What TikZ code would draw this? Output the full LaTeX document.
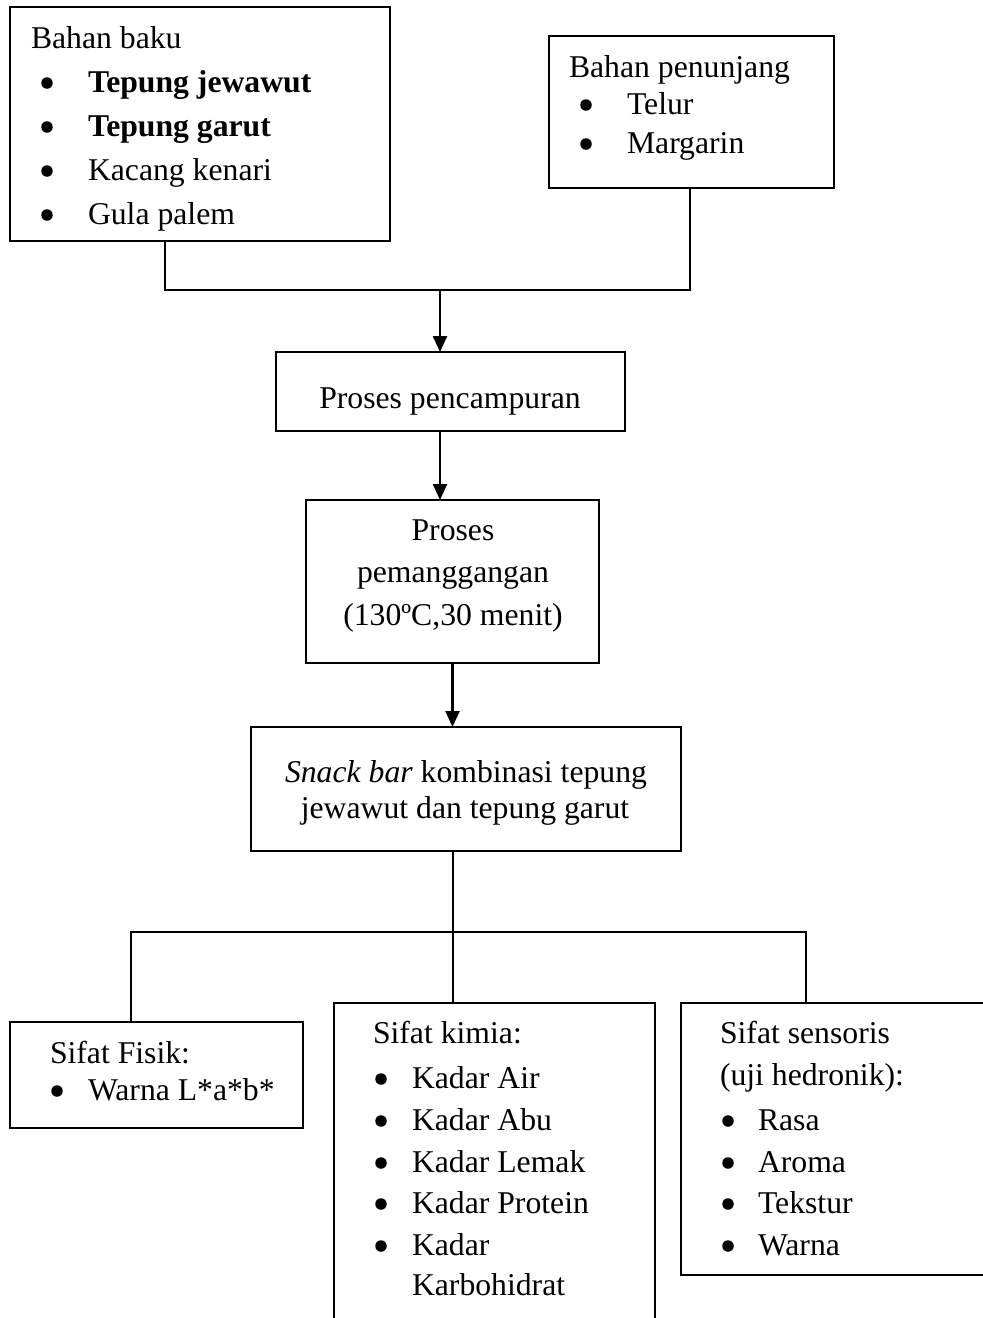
\documentclass[tikz,border=0pt]{standalone}
\usepackage{fontspec}
\setmainfont{Liberation Serif}
\usetikzlibrary{arrows.meta}
\begin{document}
\begin{tikzpicture}[x=1pt,y=-1pt,
  box/.style={draw, line width=1.2pt, inner sep=0pt, outer sep=0pt, anchor=north west},
  txt/.style={inner sep=0pt, outer sep=0pt, font=\fontsize{31.7}{38}\selectfont},
  bul/.style={circle, fill, inner sep=0pt, minimum size=11.5pt},
  conn/.style={line width=2.4pt, line join=miter},
  arr/.style={line width=2.4pt, -{Triangle[length=16pt,width=14pt]}}]
\clip (0,0) rectangle (983,1318);
% boxes
\node[box, minimum width=380pt, minimum height=234pt] (b1) at (10,7) {};
\node[box, minimum width=285pt, minimum height=152pt] (b2) at (549,36) {};
\node[box, minimum width=349pt, minimum height=79pt] (b3) at (276,352) {};
\node[box, minimum width=293pt, minimum height=163pt] (b4) at (306,500) {};
\node[box, minimum width=430pt, minimum height=124pt] (b5) at (251,727) {};
\node[box, minimum width=293pt, minimum height=106pt] (b6) at (10,1022) {};
\node[box, minimum width=321pt, minimum height=340pt] (b7) at (334,1003) {};
\node[box, minimum width=340pt, minimum height=272pt] (b8) at (681,1003) {};
% box 1 text
\node[txt, anchor=base west] (t1a) at (31,48) {Bahan baku};
\node[bul] (t1b1) at (47,83) {};
\node[txt, anchor=base west] (t1b) at (88,92) {\textbf{Tepung jewawut}};
\node[bul] (t1c1) at (47,127) {};
\node[txt, anchor=base west] (t1c) at (88,136) {\textbf{Tepung garut}};
\node[bul] (t1d1) at (47,171) {};
\node[txt, anchor=base west] (t1d) at (88,180) {Kacang kenari};
\node[bul] (t1e1) at (47,215) {};
\node[txt, anchor=base west] (t1e) at (88,224) {Gula palem};
% box 2 text
\node[txt, anchor=base west] (t2a) at (569,77) {Bahan penunjang};
\node[bul] (t2b1) at (586,105) {};
\node[txt, anchor=base west] (t2b) at (627,114) {Telur};
\node[bul] (t2c1) at (586,144) {};
\node[txt, anchor=base west] (t2c) at (627,153) {Margarin};
% box 3-5 text
\node[txt, anchor=base] (t3) at (450,408) {Proses pencampuran};
\node[txt, anchor=base] (t4a) at (453,540) {Proses};
\node[txt, anchor=base] (t4b) at (453,582) {pemanggangan};
\node[txt, anchor=base] (t4c) at (453,625) {(130ºC,30 menit)};
\node[txt, anchor=base] (t5a) at (466,782) {\textit{Snack bar} kombinasi tepung};
\node[txt, anchor=base] (t5b) at (465,818) {jewawut dan tepung garut};
% box 6 text
\node[txt, anchor=base west] (t6a) at (50,1063) {Sifat Fisik:};
\node[bul] (t6b1) at (57,1091) {};
\node[txt, anchor=base west] (t6b) at (88,1100) {Warna L*a*b*};
% box 7 text
\node[txt, anchor=base west] (t7a) at (373,1043) {Sifat kimia:};
\node[bul] (t7b1) at (381,1079) {};
\node[txt, anchor=base west] (t7b) at (412,1088) {Kadar Air};
\node[bul] (t7c1) at (381,1121) {};
\node[txt, anchor=base west] (t7c) at (412,1130) {Kadar Abu};
\node[bul] (t7d1) at (381,1163) {};
\node[txt, anchor=base west] (t7d) at (412,1172) {Kadar Lemak};
\node[bul] (t7e1) at (381,1204) {};
\node[txt, anchor=base west] (t7e) at (412,1213) {Kadar Protein};
\node[bul] (t7f1) at (381,1246) {};
\node[txt, anchor=base west] (t7f) at (412,1255) {Kadar};
\node[txt, anchor=base west] (t7g) at (412,1295) {Karbohidrat};
% box 8 text
\node[txt, anchor=base west] (t8a) at (720,1043) {Sifat sensoris};
\node[txt, anchor=base west] (t8b) at (720,1085) {(uji hedronik):};
\node[bul] (t8c1) at (728,1121) {};
\node[txt, anchor=base west] (t8c) at (758,1130) {Rasa};
\node[bul] (t8d1) at (728,1163) {};
\node[txt, anchor=base west] (t8d) at (758,1172) {Aroma};
\node[bul] (t8e1) at (728,1204) {};
\node[txt, anchor=base west] (t8e) at (758,1213) {Tekstur};
\node[bul] (t8f1) at (728,1246) {};
\node[txt, anchor=base west] (t8f) at (758,1255) {Warna};
% connectors
\coordinate (j1) at (165,290);
\coordinate (j2) at (690,290);
\coordinate (jm) at (440,290);
\coordinate (bl) at (131,932);
\coordinate (br) at (806,932);
\coordinate (bm) at (453,932);
\draw[conn] (j1 |- b1.south) -- (j1) -- (j2) -- (j2 |- b2.south);
\draw[arr] (jm) -- (jm |- b3.north);
\draw[arr] (jm |- b3.south) -- (jm |- b4.north);
\draw[arr] (b4.south) -- (b4.south |- b5.north);
\draw[conn] (bm |- b5.south) -- (bm);
\draw[conn] (bl |- b6.north) -- (bl) -- (br) -- (br |- b8.north);
\draw[conn] (bm) -- (bm |- b7.north);
\end{tikzpicture}
\end{document}
